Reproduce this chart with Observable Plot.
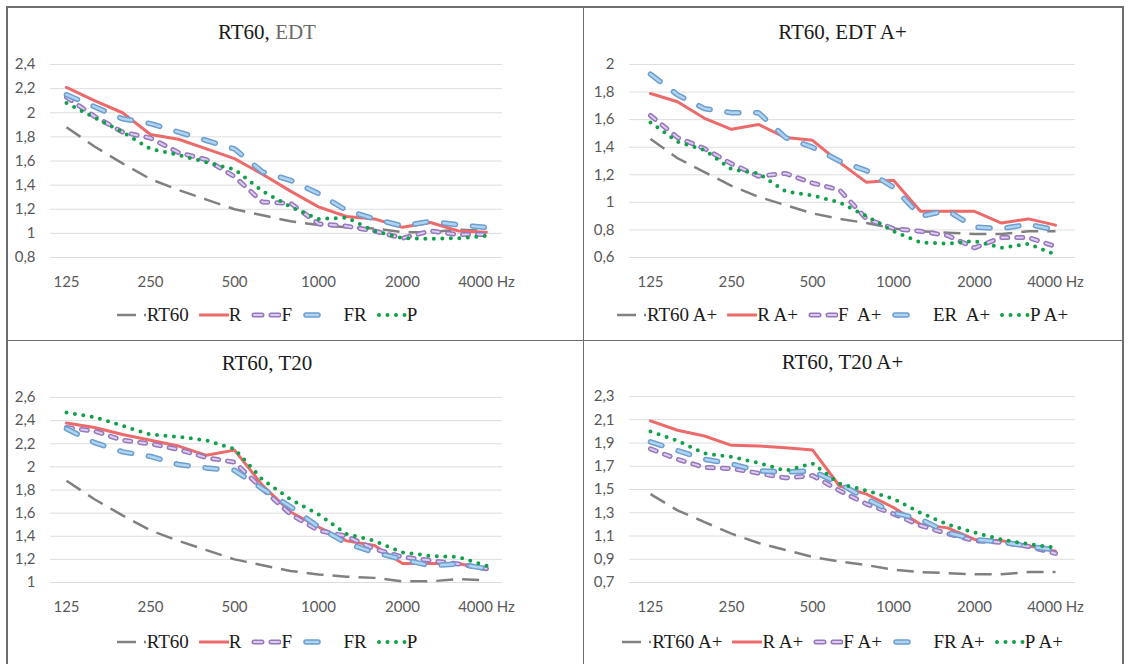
<!DOCTYPE html>
<html><head><meta charset="utf-8">
<script src="https://cdn.jsdelivr.net/npm/d3@7"></script>
<script src="https://cdn.jsdelivr.net/npm/@observablehq/plot@0.6"></script>
<style>
html,body{margin:0;padding:0;background:#fff;}
#root{position:relative;width:1128px;height:664px;overflow:hidden;background:#fff;}
.line{position:absolute;background:#6e6e6e;}
.title{position:absolute;text-align:center;font-family:"Liberation Serif","Times New Roman",serif;font-size:21px;line-height:24px;color:#1a1a1a;white-space:pre;}
.legend{position:absolute;display:flex;justify-content:center;align-items:center;font-family:"Liberation Serif","Times New Roman",serif;font-size:19px;line-height:24px;height:24px;color:#1a1a1a;white-space:pre;}
.legend .item{display:flex;align-items:center;margin:0 5px;}
.legend svg{display:block;}
.plot{position:absolute;}
</style></head>
<body><div id="root"></div>
<script>
// ---- data ----
const freqs = [125,160,200,250,315,400,500,630,800,1000,1250,1600,2000,2500,3150,4000];
const tickFreqs = [125,250,500,1000,2000,4000];

const ticksEDT   = [0.8,1,1.2,1.4,1.6,1.8,2,2.2,2.4];
const ticksEDTAp = [0.6,0.8,1,1.2,1.4,1.6,1.8,2];
const ticksT20   = [1,1.2,1.4,1.6,1.8,2,2.2,2.4,2.6];
const ticksT20Ap = [0.7,0.9,1.1,1.3,1.5,1.7,1.9,2.1,2.3];

const rt60   = [1.88,1.72,1.58,1.45,1.36,1.28,1.20,1.15,1.10,1.07,1.05,1.04,1.01,1.01,1.03,1.02];
const rt60Ap = [1.46,1.32,1.22,1.12,1.04,0.98,0.92,0.88,0.85,0.81,0.79,0.78,0.77,0.77,0.79,0.79];

const edtR  = [2.21,2.10,2.00,1.82,1.78,1.70,1.62,1.49,1.35,1.22,1.14,1.12,1.05,1.09,1.02,1.01];
const edtF  = [2.13,1.97,1.84,1.79,1.67,1.61,1.47,1.26,1.25,1.08,1.06,1.02,0.96,1.02,0.99,0.99];
const edtFR = [2.15,2.05,1.95,1.91,1.84,1.77,1.70,1.51,1.44,1.33,1.19,1.12,1.06,1.10,1.07,1.05];
const edtP  = [2.08,1.96,1.84,1.70,1.65,1.59,1.53,1.35,1.22,1.12,1.13,1.02,0.96,0.955,0.96,0.98];

const edtApR  = [1.79,1.73,1.61,1.53,1.565,1.47,1.45,1.29,1.145,1.16,0.935,0.935,0.935,0.85,0.88,0.835];
const edtApF  = [1.63,1.47,1.39,1.28,1.19,1.21,1.14,1.09,0.88,0.81,0.79,0.76,0.67,0.745,0.745,0.68];
const edtApER = [1.93,1.78,1.68,1.65,1.65,1.47,1.40,1.30,1.23,1.11,0.90,0.94,0.82,0.81,0.84,0.80];
const edtApP  = [1.58,1.44,1.38,1.24,1.21,1.08,1.05,1.00,0.90,0.79,0.71,0.70,0.72,0.67,0.70,0.62];

const t20R  = [2.38,2.34,2.28,2.23,2.18,2.10,2.145,1.84,1.61,1.48,1.36,1.32,1.165,1.165,1.165,1.11];
const t20F  = [2.34,2.31,2.23,2.20,2.15,2.08,2.04,1.81,1.59,1.45,1.40,1.29,1.22,1.19,1.16,1.12];
const t20FR = [2.33,2.21,2.13,2.09,2.02,1.99,1.97,1.81,1.655,1.48,1.34,1.26,1.20,1.145,1.16,1.12];
const t20P  = [2.47,2.43,2.355,2.28,2.26,2.23,2.155,1.89,1.72,1.59,1.42,1.36,1.26,1.23,1.22,1.145];

const t20ApR  = [2.09,2.01,1.96,1.88,1.875,1.86,1.84,1.53,1.46,1.345,1.20,1.17,1.07,1.06,1.015,0.97];
const t20ApF  = [1.85,1.76,1.69,1.68,1.64,1.60,1.62,1.49,1.375,1.29,1.19,1.12,1.06,1.045,1.01,0.95];
const t20ApFR = [1.91,1.835,1.76,1.72,1.66,1.65,1.66,1.55,1.42,1.30,1.245,1.13,1.07,1.05,1.01,0.98];
const t20ApP  = [2.00,1.92,1.81,1.78,1.73,1.66,1.725,1.55,1.49,1.42,1.30,1.20,1.13,1.07,1.03,1.00];

// ---- styles ----
const GRAY   = {layers:[{stroke:"#808080", w:2.5, dash:"17 9", cap:"butt"}],
                legend:[{x0:0, x1:30, dash:"19 8 2 99"}], lw:30};
const RED    = {layers:[{stroke:"#ec6a6a", w:3, dash:null, cap:"round"}],
                legend:[{x0:1, x1:30, dash:null}], lw:30};
const PURPLE = {layers:[{stroke:"#9677bd", w:5, dash:"6 9", cap:"round"},
                        {stroke:"#dccdee", w:2, dash:"6 9", cap:"round"}],
                legend:[{x0:3, x1:28, dash:"8 9"}], lw:30};
const BLUE   = {layers:[{stroke:"#6b9fd2", w:5.5, dash:"12 17", cap:"round"},
                        {stroke:"#b2d3ee", w:2.5, dash:"12 17", cap:"round"}],
                legend:[{x0:4, x1:16, dash:null}], lw:32};
const GREEN  = {layers:[{stroke:"#13a04b", w:4, dash:"0 8.5", cap:"round"}],
                legend:[{x0:2, x1:29, dash:"0 8.5"}], lw:30};

const fmt = d => String(+d.toFixed(1)).replace(".", ",");

const panels = [
  {title:[["RT60, ","#1a1a1a"],["EDT","#6a6a6a"]], left:7, top:50, width:520, ml:43, mr:25, mt:14, ph:193,
   titleTop:20, legendTop:303, domain:[0.8,2.4], ticks:ticksEDT,
   series:[["RT60",rt60,GRAY],["R",edtR,RED],["F",edtF,PURPLE],["  FR",edtFR,BLUE],["P",edtP,GREEN]]},
  {title:[["RT60, EDT A+","#1a1a1a"]], left:585, top:50, width:515, ml:44, mr:25, mt:14, ph:193,
   titleTop:20, legendTop:303, domain:[0.6,2], ticks:ticksEDTAp,
   series:[["RT60 A+",rt60Ap,GRAY],["R A+",edtApR,RED],["F  A+",edtApF,PURPLE],["  ER  A+",edtApER,BLUE],["P A+",edtApP,GREEN]]},
  {title:[["RT60, T20","#1a1a1a"]], left:7, top:383, width:520, ml:43, mr:25, mt:14, ph:185,
   titleTop:351, legendTop:630, domain:[1,2.6], ticks:ticksT20,
   series:[["RT60",rt60,GRAY],["R",t20R,RED],["F",t20F,PURPLE],["  FR",t20FR,BLUE],["P",t20P,GREEN]]},
  {title:[["RT60, T20 A+","#1a1a1a"]], left:585, top:382, width:515, ml:44, mr:25, mt:14, ph:186,
   titleTop:350, legendTop:630, domain:[0.7,2.3], ticks:ticksT20Ap,
   series:[["RT60 A+",rt60Ap,GRAY],["R A+",t20ApR,RED],["F A+",t20ApF,PURPLE],["  FR A+",t20ApFR,BLUE],["P A+",t20ApP,GREEN]]}
];

const root = document.getElementById("root");
function addLine(l,t,w,h){const d=document.createElement("div");d.className="line";
  Object.assign(d.style,{left:l+"px",top:t+"px",width:w+"px",height:h+"px"});root.appendChild(d);}
// frame
addLine(6,6,1118,1.5); addLine(6,6,1.5,700); addLine(1122,6,1.5,700);
addLine(582.5,6,1.5,700); addLine(6,339.5,1118,1.5);

const NS = "http://www.w3.org/2000/svg";
for (const p of panels) {
  // title
  const t = document.createElement("div"); t.className = "title";
  Object.assign(t.style,{left:p.left+"px", top:p.titleTop+"px", width:p.width+"px"});
  for (const [txt,col] of p.title){const s=document.createElement("span");s.textContent=txt;s.style.color=col;t.appendChild(s);}
  root.appendChild(t);

  // plot
  const marks = [
    Plot.gridY(p.ticks, {stroke:"#dedede", strokeOpacity:1, strokeWidth:1}),
    Plot.axisY(p.ticks, {tickSize:0, tickPadding:15, tickFormat:fmt}),
    Plot.axisX(tickFreqs, {tickSize:0, tickPadding:19, tickFormat: d => d===4000 ? "4000 Hz" : String(d)})
  ];
  for (const [name, vals, st] of p.series) {
    for (const L of st.layers) {
      marks.push(Plot.lineY(vals, {x: freqs, stroke: L.stroke, strokeWidth: L.w,
        strokeDasharray: L.dash || undefined, strokeLinecap: L.cap, strokeLinejoin:"round"}));
    }
  }
  const chart = Plot.plot({
    width: p.width, height: p.mt + p.ph + 40,
    marginLeft: p.ml, marginRight: p.mr, marginTop: p.mt, marginBottom: 40,
    x: {type:"point", domain: freqs, padding: 0.5},
    y: {domain: p.domain, nice:false},
    style: {fontFamily:"Lato, 'Open Sans', sans-serif", fontSize:"15px", color:"#595959", background:"transparent", overflow:"visible"},
    marks
  });
  chart.classList.add("plot");
  chart.style.left = p.left+"px"; chart.style.top = p.top+"px";
  root.appendChild(chart);

  // legend
  const lg = document.createElement("div"); lg.className = "legend";
  Object.assign(lg.style,{left:p.left+"px", top:p.legendTop+"px", width:p.width+"px"});
  for (const [name, vals, st] of p.series) {
    const it = document.createElement("div"); it.className="item";
    const sv = document.createElementNS(NS,"svg");
    sv.setAttribute("width", st.lw); sv.setAttribute("height", 14);
    for (const L of st.layers) {
      for (const g of st.legend) {
        const path = document.createElementNS(NS,"path");
        path.setAttribute("d", `M${g.x0},7H${g.x1}`);
        path.setAttribute("stroke", L.stroke); path.setAttribute("stroke-width", L.w);
        path.setAttribute("fill","none"); path.setAttribute("stroke-linecap", L.cap);
        if (g.dash) path.setAttribute("stroke-dasharray", g.dash);
        sv.appendChild(path);
      }
    }
    it.appendChild(sv);
    const sp = document.createElement("span"); sp.textContent = name; it.appendChild(sp);
    lg.appendChild(it);
  }
  root.appendChild(lg);
}
</script></body></html>
